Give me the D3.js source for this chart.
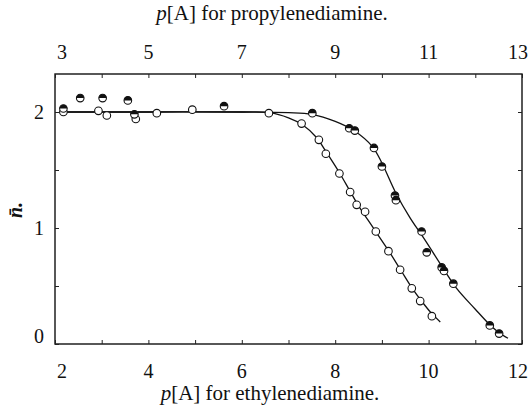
<!DOCTYPE html>
<html><head><meta charset="utf-8">
<script src="https://cdn.jsdelivr.net/npm/d3@7"></script>
<style>body{margin:0;background:#fff}svg{display:block}text{font-family:"Liberation Serif","DejaVu Serif",serif;fill:#111}</style>
</head><body><svg id="c" width="530" height="409"></svg>
<script>
// Ethylenediamine (open circles), bottom axis p[A]
const ethX = [2.18, 2.93, 3.11, 3.73, 4.18, 4.94, 6.58, 7.28, 7.65, 7.80, 8.09, 8.32, 8.46, 8.64, 8.87, 9.14, 9.39, 9.64, 9.82, 10.07];
const ethY = [2.00, 2.01, 1.97, 1.94, 1.99, 2.02, 1.99, 1.90, 1.76, 1.64, 1.47, 1.31, 1.20, 1.14, 0.97, 0.80, 0.64, 0.48, 0.37, 0.24];
// Propylenediamine (half-filled circles), top axis p[A]
const proX = [3.18, 3.54, 4.02, 4.56, 4.70, 6.62, 8.51, 9.30, 9.42, 9.83, 10.00, 10.28, 10.30, 10.85, 10.96, 11.28, 11.33, 11.53, 12.31, 12.51];
const proY = [2.03, 2.12, 2.12, 2.10, 1.98, 2.05, 1.99, 1.86, 1.84, 1.69, 1.53, 1.28, 1.24, 0.97, 0.79, 0.66, 0.63, 0.52, 0.16, 0.09];
// Smooth curves
const ethCurveX = [2.1, 4.0, 6.0, 6.6, 7.0, 7.3, 7.6, 7.8, 8.1, 8.3, 8.5, 8.7, 8.9, 9.15, 9.4, 9.65, 9.85, 10.05, 10.25];
const ethCurveY = [2.0, 2.0, 2.0, 1.995, 1.95, 1.89, 1.78, 1.66, 1.47, 1.33, 1.19, 1.07, 0.95, 0.80, 0.64, 0.48, 0.37, 0.27, 0.19];
const proCurveX = [3.1, 5.0, 7.0, 8.0, 8.5, 9.0, 9.4, 9.8, 10.0, 10.3, 10.6, 10.9, 11.3, 11.6, 12.0, 12.3, 12.5, 12.7];
const proCurveY = [2.0, 2.0, 2.0, 1.995, 1.98, 1.92, 1.84, 1.70, 1.56, 1.30, 1.09, 0.91, 0.66, 0.48, 0.30, 0.17, 0.10, 0.05];
const bottomTicks = [2, 3, 4, 5, 6, 7, 8, 9, 10, 11, 12];
const bottomLabels = [2, 4, 6, 8, 10, 12];
const topTicks = [3, 4, 5, 6, 7, 8, 9, 10, 11, 12, 13];
const topLabels = [3, 5, 7, 9, 11, 13];
const yTicks = [0, 0.5, 1, 1.5, 2];
const yLabels = [0, 1, 2];

const svg = d3.select("#c");
const L = 55, R = 522, T = 74, B = 344;
const xE = d3.scaleLinear().domain([2, 12]).range([L, R]);
const xP = d3.scaleLinear().domain([3, 13]).range([L, R]);
const y = d3.scaleLinear().domain([0, (B - T) / 116]).range([B, T]);

// frame
svg.append("rect").attr("x", L).attr("y", T).attr("width", R - L).attr("height", B - T)
  .attr("fill", "none").attr("stroke", "#111").attr("stroke-width", 1.4);

// axes
const bx = svg.append("g").attr("transform", `translate(0,${B})`)
  .call(d3.axisTop(xE).tickValues(bottomTicks).tickSize(4).tickFormat(""));
const tx = svg.append("g").attr("transform", `translate(0,${T})`)
  .call(d3.axisBottom(xP).tickValues(topTicks).tickSize(4).tickFormat(""));
const ly = svg.append("g").attr("transform", `translate(${L},0)`)
  .call(d3.axisRight(y).tickValues(yTicks).tickSize(4).tickFormat(""));
const ry = svg.append("g").attr("transform", `translate(${R},0)`)
  .call(d3.axisLeft(y).tickValues(yTicks).tickSize(4).tickFormat(""));
[bx, tx, ly, ry].forEach(g => { g.select(".domain").remove(); g.selectAll("line").attr("stroke", "#222").attr("stroke-width", 1); });

// tick labels
svg.append("g").selectAll("text").data(bottomLabels).join("text")
  .attr("x", d => xE(d) + (d === 2 ? 7 : d === 12 ? -4 : 0)).attr("y", 378)
  .attr("text-anchor", "middle").attr("font-size", 20).text(d => d);
svg.append("g").selectAll("text").data(topLabels).join("text")
  .attr("x", d => xP(d) + (d === 3 ? 7 : d === 13 ? -4 : 0)).attr("y", 59)
  .attr("text-anchor", "middle").attr("font-size", 20).text(d => d);
svg.append("g").selectAll("text").data(yLabels).join("text")
  .attr("x", 39).attr("y", d => y(d) + (d === 0 ? -1 : 7))
  .attr("text-anchor", "middle").attr("font-size", 20).text(d => d);

// axis titles
const t1 = svg.append("text").attr("x", 272).attr("y", 20).attr("text-anchor", "middle").attr("font-size", 21);
t1.append("tspan").attr("font-style", "italic").text("p");
t1.append("tspan").text("[A] for propylenediamine.");
const t2 = svg.append("text").attr("x", 270).attr("y", 400).attr("text-anchor", "middle").attr("font-size", 21);
t2.append("tspan").attr("font-style", "italic").text("p");
t2.append("tspan").text("[A] for ethylenediamine.");
svg.append("text").attr("transform", "translate(22,210) rotate(-90)").attr("text-anchor", "middle")
  .attr("font-size", 20).attr("font-style", "italic").attr("font-weight", "bold").text("n\u0304.");

// curves
const lineE = d3.line().x(d => xE(d[0])).y(d => y(d[1])).curve(d3.curveCatmullRom);
const lineP = d3.line().x(d => xP(d[0])).y(d => y(d[1])).curve(d3.curveCatmullRom);
svg.append("path").attr("d", lineE(d3.zip(ethCurveX, ethCurveY))).attr("fill", "none").attr("stroke", "#111").attr("stroke-width", 1.3);
svg.append("path").attr("d", lineP(d3.zip(proCurveX, proCurveY))).attr("fill", "none").attr("stroke", "#111").attr("stroke-width", 1.3);

// markers
const r = 3.8;
svg.append("g").selectAll("circle").data(d3.zip(ethX, ethY)).join("circle")
  .attr("cx", d => xE(d[0])).attr("cy", d => y(d[1])).attr("r", r)
  .attr("fill", "#fff").attr("stroke", "#111").attr("stroke-width", 1.1);
const arc = d3.arc().innerRadius(0).outerRadius(r).startAngle(-Math.PI / 2).endAngle(Math.PI / 2);
const pg = svg.append("g").selectAll("g").data(d3.zip(proX, proY)).join("g")
  .attr("transform", d => `translate(${xP(d[0])},${y(d[1])})`);
pg.append("circle").attr("r", r).attr("fill", "#fff").attr("stroke", "#111").attr("stroke-width", 1.1);
pg.append("path").attr("d", arc).attr("fill", "#111");
</script></body></html>
